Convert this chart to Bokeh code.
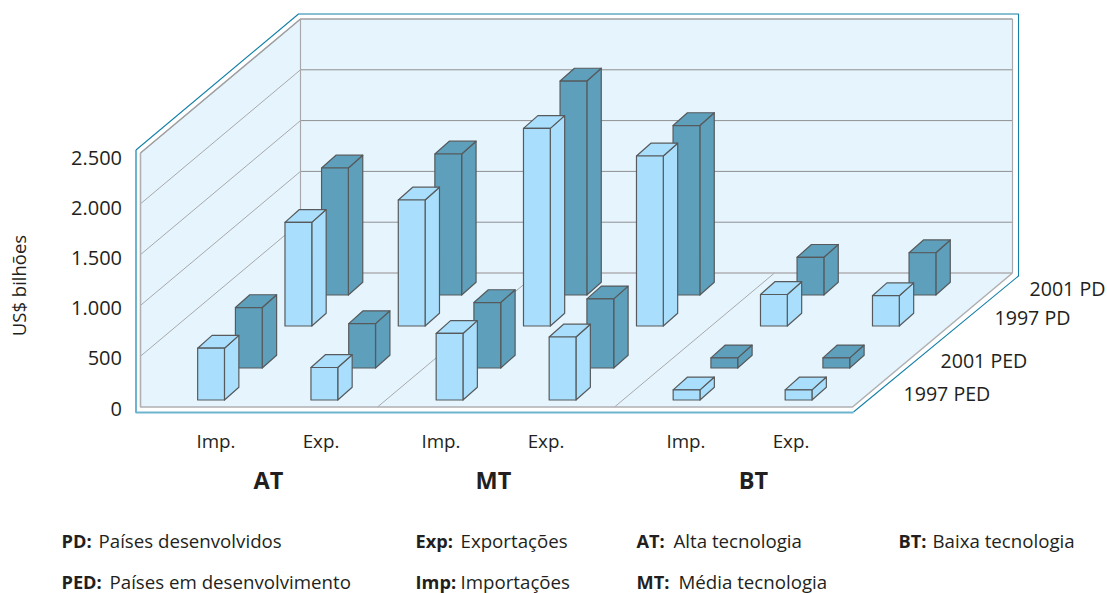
from bokeh.plotting import figure
from bokeh.models import Range1d, LinearAxis, FixedTicker
from bokeh.core.properties import value
from bokeh.embed import file_html
from bokeh.resources import INLINE

# ---- data (US$ bilhoes) ----
series = ["2001 PD", "1997 PD", "2001 PED", "1997 PED"]
groups = ["Imp.", "Exp.", "Imp.", "Exp.", "Imp.", "Exp."]
families = ["AT", "MT", "BT"]
v_2001_pd = [1250, 1388, 2106, 1668, 371, 416]
v_1997_pd = [1020, 1240, 1945, 1673, 310, 298]
v_2001_ped = [595, 437, 644, 680, 100, 100]
v_1997_ped = [510, 320, 655, 620, 100, 100]
values = [v_2001_pd, v_1997_pd, v_2001_ped, v_1997_ped]
y_ticks = [0, 500, 1000, 1500, 2000, 2500]
y_tick_labels = ["0", "500", "1.000", "1.500", "2.000", "2.500"]
y_title = "US$ bilhões"
legend_rows = [
    ("PD:", "Países desenvolvidos"), ("PED:", "Países em desenvolvimento"),
    ("Exp:", "Exportações"), ("Imp:", "Importações"),
    ("AT:", "Alta tecnologia"), ("MT:", "Média tecnologia"),
    ("BT:", "Baixa tecnologia"),
]

# ---- layout of the projection (page pixels) ----
FONT = value("Open Sans")
FLOOR_Y, WALL_PX, DEPTH_Y, DEPTH_X = 406.5, 254.0, 134.0, 160.0
SLOPE = 1.18
LEFT, RIGHT_FRONT = 140.0, 852.0
PX_PER_UNIT = WALL_PX / 2500
col_x = [188.9, 302.2, 427.4, 540.4, 664.4, 776.4]
row_depth = [112.0, 81.0, 39.0, 7.0]
row_fill = ["#5e9fbb", "#a9dffc", "#5e9fbb", "#a9dffc"]
BAR_W, BAR_DX, BAR_DY = 26.8, 14.4, 12.8

p = figure(width=1107, height=593, x_range=Range1d(0, 1107), y_range=Range1d(593, 0),
           output_backend="svg", toolbar_location=None, min_border=0,
           outline_line_color=None, background_fill_color="white", border_fill_color="white")
p.xaxis.visible = False
p.yaxis.visible = False
p.xgrid.visible = False
p.ygrid.visible = False

# outer frame
frame_x = [135.5, 298, 1018, 1018, 853, 135.5]
frame_y = [149.5, 13.5, 13.5, 275.5, 411.5, 412]
p.line(frame_x[:3] + frame_x[2:5], frame_y[:3] + frame_y[2:5], line_color="#1480a8", line_width=1.1)
p.line([135.5, 135.5, 853], [149.5, 412, 412], line_color="#6db4cf", line_width=2)

# walls and floor
BK_L, BK_R = LEFT + DEPTH_X, RIGHT_FRONT + DEPTH_X
FY = FLOOR_Y
BY = FLOOR_Y - DEPTH_Y
TOP = FLOOR_Y - WALL_PX
p.patch([LEFT, BK_L, BK_R, BK_R, RIGHT_FRONT, LEFT],
        [TOP, TOP - DEPTH_Y, TOP - DEPTH_Y, BY, FY, FY], fill_color="#e6f5fd", line_color=None)

for tv in y_ticks:
    h = tv * PX_PER_UNIT
    if tv:
        p.line([LEFT, BK_L], [FY - h, BY - h], line_color="#a8a8aa", line_width=1)
    if tv and tv < 2500:
        p.line([BK_L, BK_R], [BY - h, BY - h], line_color="#8f8f91", line_width=1)
for fx in [377.0, 614.0]:
    p.line([fx, fx + DEPTH_X], [FY, BY], line_color="#a8a8aa", line_width=1)
p.line([LEFT, BK_L, BK_R], [TOP, TOP - DEPTH_Y, TOP - DEPTH_Y], line_color="#a0a0a2", line_width=1.6)
p.line([BK_L, BK_L], [TOP - DEPTH_Y, BY], line_color="#a8a8aa", line_width=1.2)
p.line([BK_R, BK_R], [TOP - DEPTH_Y, BY], line_color="#a8a8aa", line_width=1.2)
p.line([BK_L, BK_R, RIGHT_FRONT, LEFT, LEFT], [BY, BY, FY, FY, TOP], line_color="#b0b0b2", line_width=1.6)

# bars, back row first
for r, vals in enumerate(values):
    d = row_depth[r]
    base = FLOOR_Y - d
    for c, v in enumerate(vals):
        x0 = col_x[c] + d * SLOPE
        x1 = x0 + BAR_W
        t = base - v * PX_PER_UNIT
        xs = [[x1, x1 + BAR_DX, x1 + BAR_DX, x1],
              [x0, x0 + BAR_DX, x1 + BAR_DX, x1],
              [x0, x1, x1, x0]]
        ys = [[t, t - BAR_DY, base - BAR_DY, base],
              [t, t - BAR_DY, t - BAR_DY, t],
              [t, t, base, base]]
        p.patches(xs, ys, fill_color=row_fill[r], line_color="#565a5c", line_width=1.2,
                  line_join="round")

# value axis inside the frame, drawn by Bokeh
Y0, Y1 = 408.0, 157.0
upp = 2500 / (Y0 - Y1)
p.extra_y_ranges = {"val": Range1d((Y0 - 593) * upp, (Y0 - 0) * upp)}
ax = LinearAxis(y_range_name="val", fixed_location=123.5, ticker=FixedTicker(ticks=y_ticks),
                major_label_overrides=dict(zip(y_ticks, y_tick_labels)),
                axis_line_color=None, major_tick_line_color=None, minor_tick_line_color=None,
                major_tick_in=0, major_tick_out=0, major_label_standoff=2,
                major_label_text_font="Open Sans", major_label_text_font_size="20px",
                major_label_text_color="#231f20")
p.add_layout(ax, "left")


def txt(x, y, s, size="18.8px", bold=False, align="left", angle=0.0):
    p.text([x], [y], text=[s], text_font=FONT, text_font_size=size, angle=angle,
           text_align=align, text_baseline="middle", text_color="#231f20",
           text_font_style="bold" if bold else "normal")


txt(18, 285, y_title, size="18.5px", align="center", angle=1.5708)

for cx, s in zip([215.5, 320.5, 440.5, 545.5, 685.5, 790.5], groups):
    txt(cx, 440, s, align="center")
for cx, s in zip([268, 493, 753], families):
    txt(cx, 479, s, size="23.5px", bold=True, align="center")
for (lx, ly), s in zip([(1029, 288), (994, 317), (940, 360), (903, 393)], series):
    txt(lx, ly, s, size="19.6px")

leg_pos = [(61, 98, 540), (61, 109, 581), (415, 460, 540), (415, 460, 581),
           (636, 673, 540), (636, 678, 581), (898, 932, 540)]
for (bx, tx, ly), (b, t) in zip(leg_pos, legend_rows):
    txt(bx, ly, b, size="18.2px", bold=True)
    txt(tx, ly, t, size="18.7px")

open("out.html", "w").write(file_html(p, INLINE))
